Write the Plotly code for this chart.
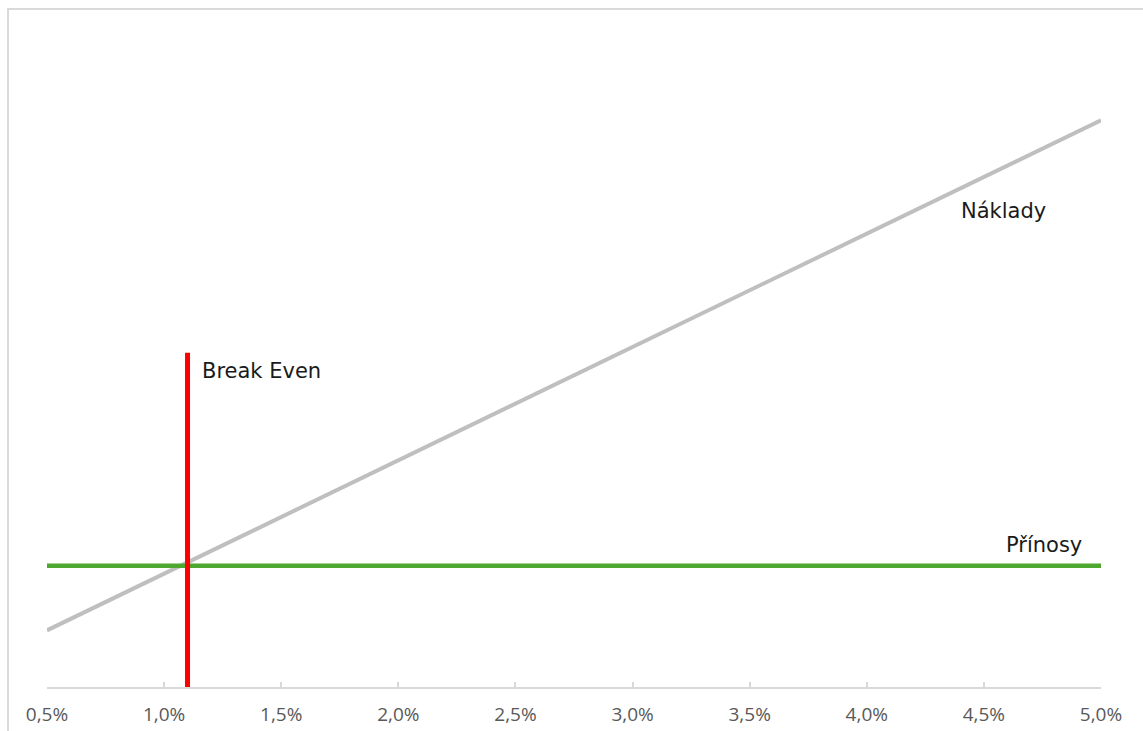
import plotly.graph_objects as go

# Data
rates = [0.5, 1.0, 1.5, 2.0, 2.5, 3.0, 3.5, 4.0, 4.5, 5.0]          # %
costs = [50, 100, 150, 200, 250, 300, 350, 400, 450, 500]            # Náklady
benefits = [107, 107, 107, 107, 107, 107, 107, 107, 107, 107]        # Přínosy
break_even_x = [1.1, 1.1]
break_even_y = [0, 295]
tick_vals = [0.5, 1.0, 1.5, 2.0, 2.5, 3.0, 3.5, 4.0, 4.5, 5.0]
tick_text = ["0,5%", "1,0%", "1,5%", "2,0%", "2,5%", "3,0%", "3,5%", "4,0%", "4,5%", "5,0%"]

W, H = 1143, 731
ML, MR, MT, MB = 47, 42, 7, 44
pw = W - ML - MR
ph = H - MT - MB

fig = go.Figure()
fig.add_trace(go.Scatter(x=rates, y=costs, mode="lines",
                         line=dict(color="#bfbfbf", width=4), hoverinfo="skip"))
fig.add_trace(go.Scatter(x=rates, y=benefits, mode="lines",
                         line=dict(color="#4ea72e", width=4.5), hoverinfo="skip"))
fig.add_trace(go.Scatter(x=break_even_x, y=break_even_y, mode="lines",
                         line=dict(color="#ff0000", width=5), hoverinfo="skip"))

ann_font = dict(family="DejaVu Sans", size=21, color="#1a1a1a")
fig.add_annotation(x=1.1, y=279, xref="x", yref="y", text="Break Even",
                   showarrow=False, xanchor="left", yanchor="middle",
                   xshift=12, font=ann_font)
fig.add_annotation(x=4.393, y=420, xref="x", yref="y", text="Náklady",
                   showarrow=False, xanchor="left", yanchor="middle", font=ann_font)
fig.add_annotation(x=4.585, y=125, xref="x", yref="y", text="Přínosy",
                   showarrow=False, xanchor="left", yanchor="middle", font=ann_font)

# outer border (light gray), partially outside the viewport
fig.add_shape(type="rect", xref="paper", yref="paper",
              x0=(8 - ML) / pw, x1=(W + 20 - ML) / pw,
              y0=-(H + 20 - (MT + ph)) / ph, y1=(MT + ph - 9) / ph,
              line=dict(color="#d9d9d9", width=2), fillcolor="rgba(0,0,0,0)",
              layer="below")

fig.update_layout(
    width=W, height=H,
    margin=dict(l=ML, r=MR, t=MT, b=MB, autoexpand=False),
    paper_bgcolor="white", plot_bgcolor="white",
    showlegend=False,
    xaxis=dict(range=[0.5, 5.0], tickvals=tick_vals, ticktext=tick_text,
               showgrid=False, zeroline=False, showline=True,
               linecolor="#d9d9d9", linewidth=2,
               ticks="inside", ticklen=5, tickwidth=1.5, tickcolor="#d9d9d9",
               ticklabelstandoff=9, automargin=False,
               tickfont=dict(family="Open Sans", size=19, color="#595959"),
               fixedrange=True),
    yaxis=dict(range=[0, 600], visible=False, showgrid=False, zeroline=False,
               automargin=False, fixedrange=True),
)

fig.write_html("out.html")
